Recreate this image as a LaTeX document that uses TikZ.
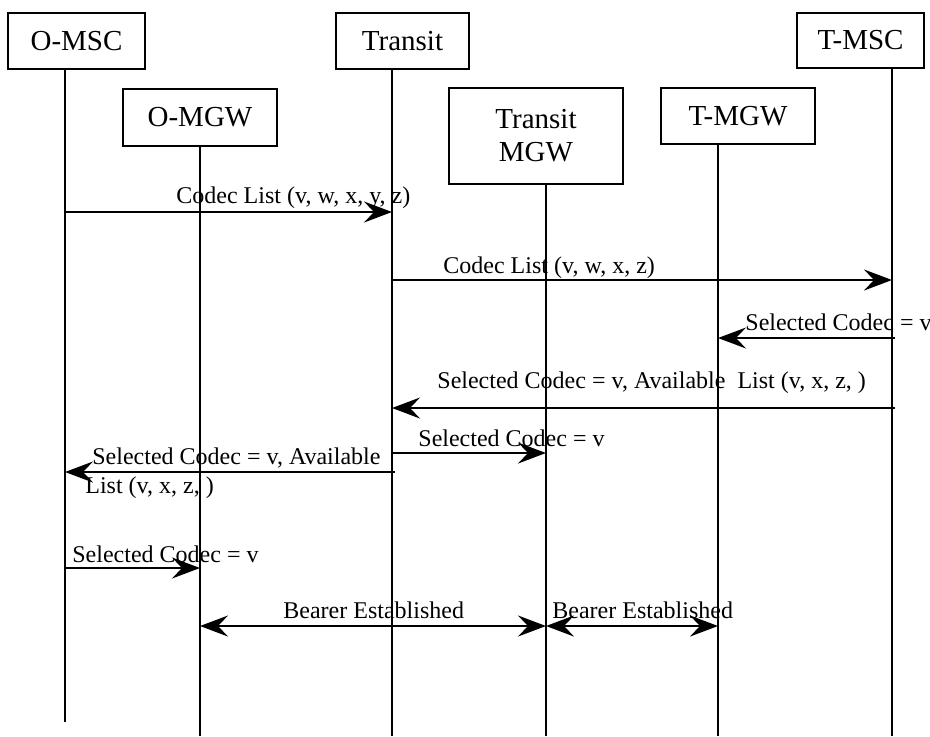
\documentclass[tikz,border=0pt]{standalone}
\usepackage{fontspec}
\setmainfont{Liberation Serif}
\usetikzlibrary{arrows.meta}
\begin{document}
\begin{tikzpicture}[x=0.5pt,y=-0.5pt,
  box/.style={draw,line width=1pt,inner sep=0pt,font=\fontsize{14.5}{16.5}\selectfont,align=center},
  life/.style={line width=1pt},
  msg/.style={line width=1pt,-{Stealth[length=14pt,width=10.5pt,inset=5pt]}},
  bmsg/.style={line width=1pt,{Stealth[length=14pt,width=10.5pt,inset=5pt]}-{Stealth[length=14pt,width=10.5pt,inset=5pt]}},
  lbl/.style={font=\fontsize{12}{14.5}\selectfont,anchor=base west,inner sep=0pt}]
\useasboundingbox (0,0) rectangle (930,736);
% boxes
\node[box,minimum width=68.5pt,minimum height=28pt] (omsc) at (76.5,41) {O-MSC};
\node[box,minimum width=77pt,minimum height=28.5pt] (omgw) at (200,117.5) {O-MGW};
\node[box,minimum width=66.5pt,minimum height=28pt] (transit) at (402.5,41) {Transit};
\node[box,minimum width=87pt,minimum height=48pt] (trmgw) at (536,136) {Transit\\MGW};
\node[box,minimum width=77pt,minimum height=28pt] (tmgw) at (738,116) {T-MGW};
\node[box,minimum width=63.5pt,minimum height=27.5pt] (tmsc) at (860.5,40.5) {T-MSC};
% lifeline x positions
\coordinate (La) at (65,0);
\coordinate (Lb) at (200,0);
\coordinate (Lc) at (392,0);
\coordinate (Ld) at (546,0);
\coordinate (Le) at (718,0);
\coordinate (Lf) at (892,0);
% rows
\coordinate (r1) at (0,212);
\coordinate (r2) at (0,280);
\coordinate (r3) at (0,338);
\coordinate (r4) at (0,408);
\coordinate (r5) at (0,453);
\coordinate (r6) at (0,472);
\coordinate (r7) at (0,568);
\coordinate (r8) at (0,626);
\coordinate (rA) at (0,722);
\coordinate (rZ) at (0,736);
% lifelines
\draw[life] (omsc.south -| La) -- (La |- rA);
\draw[life] (omgw.south -| Lb) -- (Lb |- rZ);
\draw[life] (transit.south -| Lc) -- (Lc |- rZ);
\draw[life] (trmgw.south -| Ld) -- (Ld |- rZ);
\draw[life] (tmgw.south -| Le) -- (Le |- rZ);
\draw[life] (tmsc.south -| Lf) -- (Lf |- rZ);
% messages
\draw[msg] (La |- r1) -- (Lc |- r1);
\node[lbl] (m1) at (176,203) {Codec List (v, w, x, y, z)};
\draw[msg] (Lc |- r2) -- (Lf |- r2);
\node[lbl] (m2) at (443,273) {Codec List (v, w, x, z)};
\draw[msg,shorten <=-1.5pt] (Lf |- r3) -- (Le |- r3);
\node[lbl] (m3) at (745,330) {Selected Codec = v};
\draw[msg,shorten <=-1.5pt] (Lf |- r4) -- (Lc |- r4);
\node[lbl] (m4) at (437,388) {Selected Codec = v, Available\ \ List (v, x, z, )};
\draw[msg] (Lc |- r5) -- (Ld |- r5);
\node[lbl] (m5) at (418,446) {Selected Codec = v};
\draw[msg,shorten <=-1.5pt] (Lc |- r6) -- (La |- r6);
\node[lbl] (m6a) at (92,464) {Selected Codec = v, Available};
\node[lbl] (m6b) at (85,493) {List (v, x, z, )};
\draw[msg] (La |- r7) -- (Lb |- r7);
\node[lbl] (m7) at (72,562) {Selected Codec = v};
\draw[bmsg] (Lb |- r8) -- (Ld |- r8);
\node[lbl] (m8) at (283,618) {Bearer Established};
\draw[bmsg] (Ld |- r8) -- (Le |- r8);
\node[lbl] (m9) at (552,618) {Bearer Established};
\end{tikzpicture}
\end{document}
